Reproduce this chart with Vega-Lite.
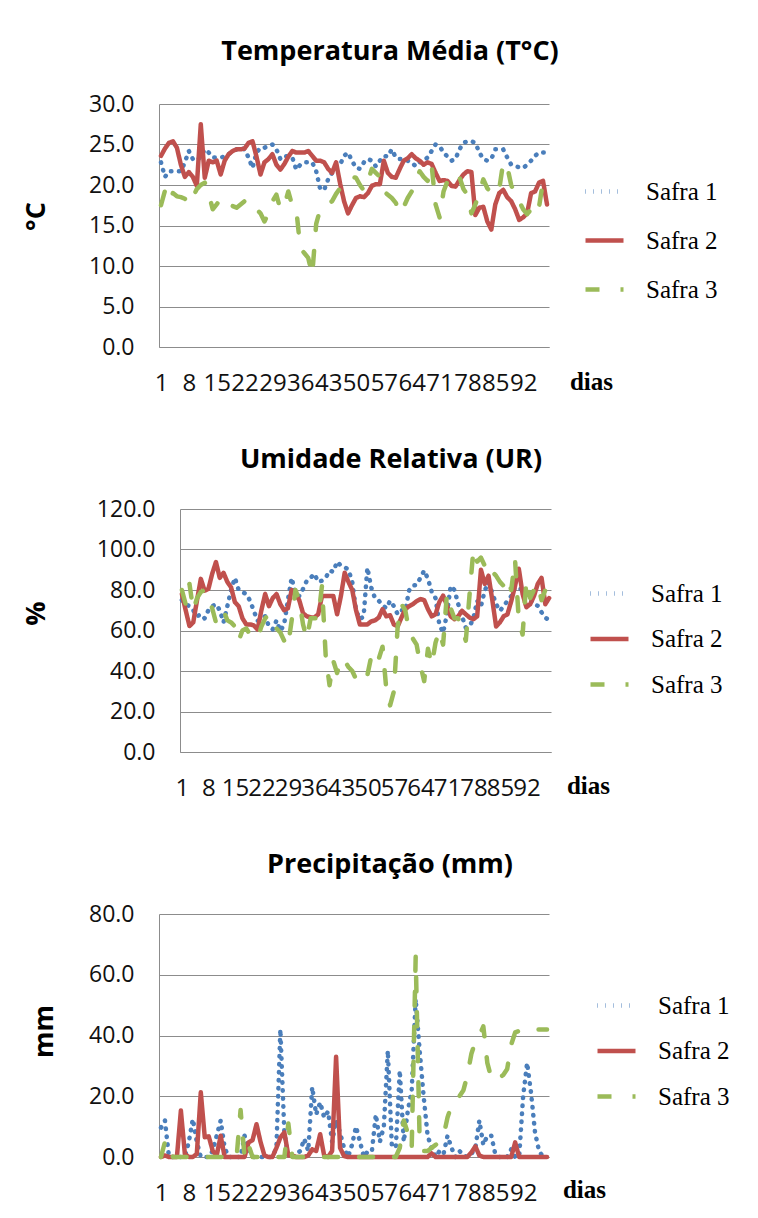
{
"$schema": "https://vega.github.io/schema/vega-lite/v6.json",
"background": "white",
"padding": {"left": 22, "top": 38, "right": 10, "bottom": 14},
"config": {
  "font": "Open Sans",
  "view": {"stroke": null},
  "axis": {"gridColor": "#8c8c8c", "domainColor": "#8c8c8c", "ticks": false, "tickSize": 0, "labelColor": "#111111", "labelFont": "Open Sans", "titleColor": "#000000"},
  "title": {"font": "Open Sans", "fontSize": 27, "fontWeight": "bold", "color": "#000000", "anchor": "middle", "frame": "group"},
  "line": {"strokeWidth": 4.5, "strokeCap": "round", "strokeJoin": "round"}
},
"spacing": 51,
"resolve": {"scale": {"color": "independent", "strokeDash": "independent"}, "legend": {"color": "independent", "strokeDash": "independent"}},
"data": {"values": [
{"dia":1,"safra":"Safra 1","temp":22.8,"ur":75,"prec":9.7},
{"dia":2,"safra":"Safra 1","temp":21.0,"ur":73,"prec":12},
{"dia":3,"safra":"Safra 1","temp":21.7,"ur":72,"prec":0},
{"dia":4,"safra":"Safra 1","temp":21.7,"ur":70,"prec":0},
{"dia":5,"safra":"Safra 1","temp":21.7,"ur":67,"prec":0},
{"dia":6,"safra":"Safra 1","temp":21.7,"ur":68,"prec":0},
{"dia":7,"safra":"Safra 1","temp":22.8,"ur":66,"prec":0},
{"dia":8,"safra":"Safra 1","temp":24.2,"ur":70,"prec":5},
{"dia":9,"safra":"Safra 1","temp":23.2,"ur":72,"prec":12.5},
{"dia":10,"safra":"Safra 1","temp":23.0,"ur":73,"prec":5},
{"dia":11,"safra":"Safra 1","temp":23.5,"ur":70,"prec":0},
{"dia":12,"safra":"Safra 1","temp":24.4,"ur":64,"prec":0},
{"dia":13,"safra":"Safra 1","temp":24.0,"ur":72,"prec":0},
{"dia":14,"safra":"Safra 1","temp":23.4,"ur":80,"prec":2},
{"dia":15,"safra":"Safra 1","temp":23.4,"ur":86,"prec":7},
{"dia":16,"safra":"Safra 1","temp":23.4,"ur":80,"prec":12},
{"dia":17,"safra":"Safra 1","temp":23.5,"ur":79,"prec":3},
{"dia":18,"safra":"Safra 1","temp":23.8,"ur":78,"prec":0},
{"dia":19,"safra":"Safra 1","temp":24.2,"ur":74.7,"prec":0},
{"dia":20,"safra":"Safra 1","temp":24.4,"ur":69.7,"prec":0},
{"dia":21,"safra":"Safra 1","temp":24.6,"ur":64.7,"prec":0},
{"dia":22,"safra":"Safra 1","temp":24.4,"ur":66,"prec":7},
{"dia":23,"safra":"Safra 1","temp":23.4,"ur":67,"prec":3},
{"dia":24,"safra":"Safra 1","temp":22.1,"ur":62,"prec":0},
{"dia":25,"safra":"Safra 1","temp":24.0,"ur":60.6,"prec":0},
{"dia":26,"safra":"Safra 1","temp":24.6,"ur":65,"prec":0},
{"dia":27,"safra":"Safra 1","temp":24.6,"ur":59.8,"prec":0},
{"dia":28,"safra":"Safra 1","temp":24.8,"ur":63,"prec":0},
{"dia":29,"safra":"Safra 1","temp":25.0,"ur":75,"prec":0},
{"dia":30,"safra":"Safra 1","temp":24.4,"ur":86,"prec":3},
{"dia":31,"safra":"Safra 1","temp":23.2,"ur":78,"prec":42},
{"dia":32,"safra":"Safra 1","temp":23.6,"ur":77,"prec":8},
{"dia":33,"safra":"Safra 1","temp":23.5,"ur":80.5,"prec":0},
{"dia":34,"safra":"Safra 1","temp":23.4,"ur":84.6,"prec":0},
{"dia":35,"safra":"Safra 1","temp":21.9,"ur":86,"prec":1},
{"dia":36,"safra":"Safra 1","temp":22.5,"ur":88,"prec":2},
{"dia":37,"safra":"Safra 1","temp":22.8,"ur":84,"prec":6},
{"dia":38,"safra":"Safra 1","temp":22.8,"ur":84.6,"prec":2},
{"dia":39,"safra":"Safra 1","temp":22.8,"ur":86,"prec":23},
{"dia":40,"safra":"Safra 1","temp":21.7,"ur":89.6,"prec":14},
{"dia":41,"safra":"Safra 1","temp":19.5,"ur":89,"prec":18},
{"dia":42,"safra":"Safra 1","temp":19.4,"ur":94,"prec":13},
{"dia":43,"safra":"Safra 1","temp":20.7,"ur":92,"prec":15},
{"dia":44,"safra":"Safra 1","temp":21.5,"ur":91.3,"prec":5},
{"dia":45,"safra":"Safra 1","temp":22.3,"ur":90,"prec":12},
{"dia":46,"safra":"Safra 1","temp":22.5,"ur":84,"prec":8},
{"dia":47,"safra":"Safra 1","temp":23.6,"ur":70,"prec":3},
{"dia":48,"safra":"Safra 1","temp":24.0,"ur":65.6,"prec":0},
{"dia":49,"safra":"Safra 1","temp":23.0,"ur":67,"prec":4},
{"dia":50,"safra":"Safra 1","temp":22.1,"ur":91,"prec":10},
{"dia":51,"safra":"Safra 1","temp":22.0,"ur":81.3,"prec":5},
{"dia":52,"safra":"Safra 1","temp":22.8,"ur":76,"prec":0},
{"dia":53,"safra":"Safra 1","temp":23.2,"ur":74.7,"prec":2},
{"dia":54,"safra":"Safra 1","temp":23.0,"ur":72.5,"prec":2},
{"dia":55,"safra":"Safra 1","temp":22.3,"ur":71,"prec":14},
{"dia":56,"safra":"Safra 1","temp":23.0,"ur":74.7,"prec":5},
{"dia":57,"safra":"Safra 1","temp":23.6,"ur":72,"prec":10},
{"dia":58,"safra":"Safra 1","temp":23.5,"ur":68,"prec":35},
{"dia":59,"safra":"Safra 1","temp":24.4,"ur":70,"prec":4},
{"dia":60,"safra":"Safra 1","temp":23.4,"ur":69.7,"prec":3},
{"dia":61,"safra":"Safra 1","temp":23.2,"ur":79.7,"prec":28.5},
{"dia":62,"safra":"Safra 1","temp":23.2,"ur":82.2,"prec":5},
{"dia":63,"safra":"Safra 1","temp":23.0,"ur":82.5,"prec":15},
{"dia":64,"safra":"Safra 1","temp":22.8,"ur":86,"prec":22},
{"dia":65,"safra":"Safra 1","temp":22.3,"ur":89.6,"prec":52},
{"dia":66,"safra":"Safra 1","temp":22.8,"ur":85.5,"prec":35},
{"dia":67,"safra":"Safra 1","temp":23.0,"ur":79,"prec":20},
{"dia":68,"safra":"Safra 1","temp":23.4,"ur":76,"prec":7},
{"dia":69,"safra":"Safra 1","temp":24.2,"ur":63,"prec":3},
{"dia":70,"safra":"Safra 1","temp":25.0,"ur":58.9,"prec":0},
{"dia":71,"safra":"Safra 1","temp":24.8,"ur":68,"prec":2},
{"dia":72,"safra":"Safra 1","temp":24.0,"ur":82,"prec":1},
{"dia":73,"safra":"Safra 1","temp":23.5,"ur":80,"prec":7},
{"dia":74,"safra":"Safra 1","temp":23.0,"ur":73,"prec":3},
{"dia":75,"safra":"Safra 1","temp":23.2,"ur":67,"prec":0},
{"dia":76,"safra":"Safra 1","temp":24.4,"ur":61.4,"prec":2},
{"dia":77,"safra":"Safra 1","temp":25.2,"ur":62,"prec":0.5},
{"dia":78,"safra":"Safra 1","temp":25.4,"ur":66,"prec":0},
{"dia":79,"safra":"Safra 1","temp":25.4,"ur":74.7,"prec":1},
{"dia":80,"safra":"Safra 1","temp":25.2,"ur":72,"prec":3},
{"dia":81,"safra":"Safra 1","temp":24.0,"ur":79.7,"prec":12},
{"dia":82,"safra":"Safra 1","temp":23.2,"ur":83.8,"prec":4},
{"dia":83,"safra":"Safra 1","temp":23.0,"ur":78.5,"prec":7},
{"dia":84,"safra":"Safra 1","temp":23.2,"ur":73,"prec":7},
{"dia":85,"safra":"Safra 1","temp":24.4,"ur":69.7,"prec":1},
{"dia":86,"safra":"Safra 1","temp":24.4,"ur":72,"prec":0},
{"dia":87,"safra":"Safra 1","temp":24.4,"ur":74.7,"prec":0},
{"dia":88,"safra":"Safra 1","temp":23.4,"ur":77,"prec":0},
{"dia":89,"safra":"Safra 1","temp":22.5,"ur":81.3,"prec":2.5},
{"dia":90,"safra":"Safra 1","temp":22.3,"ur":81,"prec":0},
{"dia":91,"safra":"Safra 1","temp":22.2,"ur":80,"prec":0},
{"dia":92,"safra":"Safra 1","temp":22.1,"ur":78,"prec":20},
{"dia":93,"safra":"Safra 1","temp":22.5,"ur":76,"prec":31},
{"dia":94,"safra":"Safra 1","temp":23.0,"ur":73,"prec":21},
{"dia":95,"safra":"Safra 1","temp":23.6,"ur":72.2,"prec":8},
{"dia":96,"safra":"Safra 1","temp":24.0,"ur":69,"prec":2},
{"dia":97,"safra":"Safra 1","temp":24.0,"ur":66.4,"prec":0},
{"dia":98,"safra":"Safra 1","temp":24.0,"ur":65,"prec":0},
{"dia":1,"safra":"Safra 2","temp":23.6,"ur":78,"prec":0},
{"dia":2,"safra":"Safra 2","temp":24.5,"ur":70,"prec":0.5},
{"dia":3,"safra":"Safra 2","temp":25.2,"ur":62.2,"prec":0},
{"dia":4,"safra":"Safra 2","temp":25.4,"ur":64,"prec":0},
{"dia":5,"safra":"Safra 2","temp":24.6,"ur":75,"prec":0},
{"dia":6,"safra":"Safra 2","temp":22.5,"ur":85.5,"prec":15.3},
{"dia":7,"safra":"Safra 2","temp":21.0,"ur":79.7,"prec":1},
{"dia":8,"safra":"Safra 2","temp":21.6,"ur":80.5,"prec":0},
{"dia":9,"safra":"Safra 2","temp":21.0,"ur":88,"prec":0},
{"dia":10,"safra":"Safra 2","temp":19.9,"ur":93.8,"prec":1},
{"dia":11,"safra":"Safra 2","temp":27.5,"ur":86,"prec":21.3},
{"dia":12,"safra":"Safra 2","temp":20.9,"ur":88.5,"prec":6.5},
{"dia":13,"safra":"Safra 2","temp":23.0,"ur":84,"prec":6.8},
{"dia":14,"safra":"Safra 2","temp":22.8,"ur":81.3,"prec":2},
{"dia":15,"safra":"Safra 2","temp":23.0,"ur":74,"prec":0.5},
{"dia":16,"safra":"Safra 2","temp":21.3,"ur":72,"prec":7},
{"dia":17,"safra":"Safra 2","temp":23.0,"ur":66,"prec":0},
{"dia":18,"safra":"Safra 2","temp":23.8,"ur":63,"prec":0},
{"dia":19,"safra":"Safra 2","temp":24.2,"ur":63,"prec":0},
{"dia":20,"safra":"Safra 2","temp":24.4,"ur":62.5,"prec":0},
{"dia":21,"safra":"Safra 2","temp":24.4,"ur":60.5,"prec":0},
{"dia":22,"safra":"Safra 2","temp":24.5,"ur":70,"prec":0},
{"dia":23,"safra":"Safra 2","temp":25.2,"ur":78,"prec":4.8},
{"dia":24,"safra":"Safra 2","temp":25.4,"ur":72,"prec":5.5},
{"dia":25,"safra":"Safra 2","temp":23.5,"ur":76,"prec":10.8},
{"dia":26,"safra":"Safra 2","temp":21.3,"ur":78,"prec":5},
{"dia":27,"safra":"Safra 2","temp":22.8,"ur":73,"prec":0.5},
{"dia":28,"safra":"Safra 2","temp":23.2,"ur":70,"prec":0},
{"dia":29,"safra":"Safra 2","temp":23.8,"ur":71,"prec":0},
{"dia":30,"safra":"Safra 2","temp":22.5,"ur":80,"prec":3},
{"dia":31,"safra":"Safra 2","temp":21.9,"ur":78,"prec":6.4},
{"dia":32,"safra":"Safra 2","temp":22.6,"ur":75,"prec":8.1},
{"dia":33,"safra":"Safra 2","temp":23.5,"ur":68.5,"prec":0.5},
{"dia":34,"safra":"Safra 2","temp":24.2,"ur":67,"prec":0.5},
{"dia":35,"safra":"Safra 2","temp":24.0,"ur":66.5,"prec":0},
{"dia":36,"safra":"Safra 2","temp":24.0,"ur":66.4,"prec":0},
{"dia":37,"safra":"Safra 2","temp":24.0,"ur":68,"prec":0},
{"dia":38,"safra":"Safra 2","temp":24.2,"ur":77,"prec":0.5},
{"dia":39,"safra":"Safra 2","temp":23.6,"ur":77,"prec":2.5},
{"dia":40,"safra":"Safra 2","temp":23.0,"ur":77,"prec":2},
{"dia":41,"safra":"Safra 2","temp":23.0,"ur":77,"prec":7.5},
{"dia":42,"safra":"Safra 2","temp":22.8,"ur":68,"prec":0.5},
{"dia":43,"safra":"Safra 2","temp":22.0,"ur":77,"prec":0},
{"dia":44,"safra":"Safra 2","temp":21.5,"ur":88.5,"prec":2},
{"dia":45,"safra":"Safra 2","temp":22.8,"ur":84,"prec":33},
{"dia":46,"safra":"Safra 2","temp":20.2,"ur":80,"prec":3},
{"dia":47,"safra":"Safra 2","temp":18.0,"ur":70,"prec":0.3},
{"dia":48,"safra":"Safra 2","temp":16.5,"ur":63,"prec":0},
{"dia":49,"safra":"Safra 2","temp":17.5,"ur":63,"prec":0},
{"dia":50,"safra":"Safra 2","temp":18.4,"ur":63,"prec":0},
{"dia":51,"safra":"Safra 2","temp":18.6,"ur":64.5,"prec":0},
{"dia":52,"safra":"Safra 2","temp":18.5,"ur":65,"prec":0},
{"dia":53,"safra":"Safra 2","temp":19.0,"ur":66.4,"prec":0},
{"dia":54,"safra":"Safra 2","temp":19.9,"ur":70.5,"prec":0},
{"dia":55,"safra":"Safra 2","temp":20.1,"ur":67,"prec":0},
{"dia":56,"safra":"Safra 2","temp":20.1,"ur":67.5,"prec":0},
{"dia":57,"safra":"Safra 2","temp":23.0,"ur":63,"prec":0},
{"dia":58,"safra":"Safra 2","temp":21.5,"ur":62,"prec":0},
{"dia":59,"safra":"Safra 2","temp":21.0,"ur":66.4,"prec":0},
{"dia":60,"safra":"Safra 2","temp":20.9,"ur":70.5,"prec":0},
{"dia":61,"safra":"Safra 2","temp":22.0,"ur":72,"prec":0},
{"dia":62,"safra":"Safra 2","temp":23.0,"ur":73,"prec":0},
{"dia":63,"safra":"Safra 2","temp":23.3,"ur":74.5,"prec":0},
{"dia":64,"safra":"Safra 2","temp":23.8,"ur":75.5,"prec":0},
{"dia":65,"safra":"Safra 2","temp":23.3,"ur":75,"prec":0},
{"dia":66,"safra":"Safra 2","temp":23.0,"ur":70.5,"prec":0},
{"dia":67,"safra":"Safra 2","temp":22.5,"ur":67,"prec":0},
{"dia":68,"safra":"Safra 2","temp":22.8,"ur":68,"prec":0},
{"dia":69,"safra":"Safra 2","temp":22.6,"ur":74,"prec":1.2},
{"dia":70,"safra":"Safra 2","temp":21.5,"ur":77.2,"prec":0},
{"dia":71,"safra":"Safra 2","temp":20.5,"ur":72.5,"prec":0},
{"dia":72,"safra":"Safra 2","temp":20.6,"ur":67,"prec":0},
{"dia":73,"safra":"Safra 2","temp":20.5,"ur":65.6,"prec":0},
{"dia":74,"safra":"Safra 2","temp":19.9,"ur":67,"prec":0},
{"dia":75,"safra":"Safra 2","temp":19.8,"ur":69.7,"prec":0},
{"dia":76,"safra":"Safra 2","temp":20.6,"ur":68,"prec":0},
{"dia":77,"safra":"Safra 2","temp":21.3,"ur":66.4,"prec":0},
{"dia":78,"safra":"Safra 2","temp":21.7,"ur":65.6,"prec":0},
{"dia":79,"safra":"Safra 2","temp":21.6,"ur":67,"prec":1.5},
{"dia":80,"safra":"Safra 2","temp":16.3,"ur":90,"prec":3.5},
{"dia":81,"safra":"Safra 2","temp":17.2,"ur":83,"prec":0.5},
{"dia":82,"safra":"Safra 2","temp":17.3,"ur":87,"prec":0},
{"dia":83,"safra":"Safra 2","temp":15.5,"ur":75,"prec":0},
{"dia":84,"safra":"Safra 2","temp":14.5,"ur":62,"prec":0},
{"dia":85,"safra":"Safra 2","temp":17.6,"ur":64,"prec":0},
{"dia":86,"safra":"Safra 2","temp":19.0,"ur":67,"prec":0},
{"dia":87,"safra":"Safra 2","temp":19.4,"ur":68,"prec":0},
{"dia":88,"safra":"Safra 2","temp":18.5,"ur":74.5,"prec":0},
{"dia":89,"safra":"Safra 2","temp":18.0,"ur":82,"prec":0},
{"dia":90,"safra":"Safra 2","temp":17.0,"ur":90.5,"prec":4.8},
{"dia":91,"safra":"Safra 2","temp":15.7,"ur":78,"prec":0},
{"dia":92,"safra":"Safra 2","temp":16.0,"ur":71.5,"prec":0},
{"dia":93,"safra":"Safra 2","temp":16.5,"ur":73,"prec":0},
{"dia":94,"safra":"Safra 2","temp":19.0,"ur":77,"prec":0},
{"dia":95,"safra":"Safra 2","temp":19.2,"ur":83,"prec":0},
{"dia":96,"safra":"Safra 2","temp":20.3,"ur":86,"prec":0},
{"dia":97,"safra":"Safra 2","temp":20.5,"ur":73,"prec":0},
{"dia":98,"safra":"Safra 2","temp":17.6,"ur":76,"prec":0},
{"dia":1,"safra":"Safra 3","temp":17.5,"ur":80,"prec":0},
{"dia":2,"safra":"Safra 3","temp":19.3,"ur":73,"prec":5},
{"dia":3,"safra":"Safra 3","temp":18.0,"ur":83,"prec":5},
{"dia":4,"safra":"Safra 3","temp":19.0,"ur":70,"prec":0},
{"dia":5,"safra":"Safra 3","temp":18.6,"ur":76,"prec":0},
{"dia":6,"safra":"Safra 3","temp":18.5,"ur":79,"prec":0},
{"dia":7,"safra":"Safra 3","temp":18.3,"ur":80,"prec":0},
{"dia":8,"safra":"Safra 3","temp":17.6,"ur":76,"prec":0},
{"dia":9,"safra":"Safra 3","temp":18.5,"ur":71,"prec":0},
{"dia":10,"safra":"Safra 3","temp":19.5,"ur":64,"prec":0},
{"dia":11,"safra":"Safra 3","temp":20.0,"ur":66,"prec":0},
{"dia":12,"safra":"Safra 3","temp":20.3,"ur":70,"prec":0},
{"dia":13,"safra":"Safra 3","temp":18.9,"ur":65,"prec":0},
{"dia":14,"safra":"Safra 3","temp":17.0,"ur":64,"prec":0},
{"dia":15,"safra":"Safra 3","temp":17.6,"ur":62,"prec":0},
{"dia":16,"safra":"Safra 3","temp":18.4,"ur":55,"prec":0},
{"dia":17,"safra":"Safra 3","temp":18.2,"ur":60,"prec":0},
{"dia":18,"safra":"Safra 3","temp":17.8,"ur":61,"prec":0},
{"dia":19,"safra":"Safra 3","temp":17.4,"ur":58,"prec":0},
{"dia":20,"safra":"Safra 3","temp":17.2,"ur":57,"prec":0},
{"dia":21,"safra":"Safra 3","temp":17.6,"ur":56,"prec":15.5},
{"dia":22,"safra":"Safra 3","temp":18.0,"ur":62,"prec":0},
{"dia":23,"safra":"Safra 3","temp":18.2,"ur":66,"prec":4},
{"dia":24,"safra":"Safra 3","temp":17.5,"ur":68,"prec":0},
{"dia":25,"safra":"Safra 3","temp":17.0,"ur":63,"prec":0},
{"dia":26,"safra":"Safra 3","temp":16.5,"ur":61,"prec":0},
{"dia":27,"safra":"Safra 3","temp":15.5,"ur":59,"prec":0},
{"dia":28,"safra":"Safra 3","temp":16.5,"ur":55,"prec":0},
{"dia":29,"safra":"Safra 3","temp":18.0,"ur":52,"prec":0},
{"dia":30,"safra":"Safra 3","temp":18.8,"ur":65,"prec":0},
{"dia":31,"safra":"Safra 3","temp":17.0,"ur":80,"prec":0},
{"dia":32,"safra":"Safra 3","temp":17.5,"ur":75,"prec":0},
{"dia":33,"safra":"Safra 3","temp":19.2,"ur":63,"prec":11},
{"dia":34,"safra":"Safra 3","temp":17.4,"ur":56,"prec":0},
{"dia":35,"safra":"Safra 3","temp":17.0,"ur":66,"prec":0},
{"dia":36,"safra":"Safra 3","temp":12.2,"ur":66,"prec":0},
{"dia":37,"safra":"Safra 3","temp":11.6,"ur":66,"prec":0},
{"dia":38,"safra":"Safra 3","temp":11.0,"ur":82,"prec":0},
{"dia":39,"safra":"Safra 3","temp":8.9,"ur":47,"prec":0},
{"dia":40,"safra":"Safra 3","temp":15.2,"ur":33,"prec":0},
{"dia":41,"safra":"Safra 3","temp":17.0,"ur":45,"prec":0},
{"dia":42,"safra":"Safra 3","temp":17.3,"ur":39,"prec":0},
{"dia":43,"safra":"Safra 3","temp":17.6,"ur":46,"prec":0},
{"dia":44,"safra":"Safra 3","temp":18.0,"ur":45,"prec":0},
{"dia":45,"safra":"Safra 3","temp":18.9,"ur":42,"prec":0},
{"dia":46,"safra":"Safra 3","temp":19.6,"ur":40,"prec":0},
{"dia":47,"safra":"Safra 3","temp":20.0,"ur":36,"prec":0},
{"dia":48,"safra":"Safra 3","temp":20.5,"ur":34,"prec":0},
{"dia":49,"safra":"Safra 3","temp":21.0,"ur":35,"prec":0},
{"dia":50,"safra":"Safra 3","temp":20.9,"ur":38,"prec":0},
{"dia":51,"safra":"Safra 3","temp":20.0,"ur":47,"prec":0},
{"dia":52,"safra":"Safra 3","temp":19.3,"ur":50,"prec":0},
{"dia":53,"safra":"Safra 3","temp":20.5,"ur":46,"prec":0},
{"dia":54,"safra":"Safra 3","temp":22.0,"ur":52,"prec":0},
{"dia":55,"safra":"Safra 3","temp":21.5,"ur":31,"prec":0},
{"dia":56,"safra":"Safra 3","temp":21.0,"ur":23,"prec":0},
{"dia":57,"safra":"Safra 3","temp":19.2,"ur":30,"prec":0},
{"dia":58,"safra":"Safra 3","temp":18.8,"ur":62,"prec":0},
{"dia":59,"safra":"Safra 3","temp":18.4,"ur":73,"prec":0},
{"dia":60,"safra":"Safra 3","temp":17.8,"ur":70,"prec":0},
{"dia":61,"safra":"Safra 3","temp":16.5,"ur":60,"prec":3},
{"dia":62,"safra":"Safra 3","temp":17.3,"ur":56,"prec":12},
{"dia":63,"safra":"Safra 3","temp":18.4,"ur":53,"prec":8},
{"dia":64,"safra":"Safra 3","temp":19.2,"ur":43,"prec":3},
{"dia":65,"safra":"Safra 3","temp":20.5,"ur":35,"prec":66},
{"dia":66,"safra":"Safra 3","temp":21.7,"ur":51,"prec":5},
{"dia":67,"safra":"Safra 3","temp":21.0,"ur":43,"prec":2},
{"dia":68,"safra":"Safra 3","temp":20.5,"ur":54,"prec":2},
{"dia":69,"safra":"Safra 3","temp":22.5,"ur":60,"prec":3},
{"dia":70,"safra":"Safra 3","temp":17.6,"ur":53,"prec":4},
{"dia":71,"safra":"Safra 3","temp":16.0,"ur":78,"prec":5},
{"dia":72,"safra":"Safra 3","temp":19.2,"ur":71,"prec":7},
{"dia":73,"safra":"Safra 3","temp":20.5,"ur":66,"prec":13},
{"dia":74,"safra":"Safra 3","temp":21.0,"ur":66,"prec":17},
{"dia":75,"safra":"Safra 3","temp":21.5,"ur":60,"prec":18},
{"dia":76,"safra":"Safra 3","temp":21.0,"ur":55,"prec":20},
{"dia":77,"safra":"Safra 3","temp":19.5,"ur":78,"prec":22},
{"dia":78,"safra":"Safra 3","temp":18.8,"ur":100,"prec":27},
{"dia":79,"safra":"Safra 3","temp":16.5,"ur":94,"prec":34},
{"dia":80,"safra":"Safra 3","temp":17.6,"ur":96,"prec":38},
{"dia":81,"safra":"Safra 3","temp":19.0,"ur":92,"prec":40},
{"dia":82,"safra":"Safra 3","temp":20.7,"ur":94,"prec":43},
{"dia":83,"safra":"Safra 3","temp":19.6,"ur":89,"prec":31},
{"dia":84,"safra":"Safra 3","temp":19.0,"ur":87,"prec":26},
{"dia":85,"safra":"Safra 3","temp":18.8,"ur":84,"prec":25},
{"dia":86,"safra":"Safra 3","temp":19.5,"ur":82,"prec":26},
{"dia":87,"safra":"Safra 3","temp":22.8,"ur":86,"prec":27},
{"dia":88,"safra":"Safra 3","temp":22.3,"ur":80,"prec":29},
{"dia":89,"safra":"Safra 3","temp":20.0,"ur":95,"prec":37},
{"dia":90,"safra":"Safra 3","temp":18.8,"ur":65,"prec":41},
{"dia":91,"safra":"Safra 3","temp":18.0,"ur":58,"prec":41.5},
{"dia":92,"safra":"Safra 3","temp":17.0,"ur":85,"prec":42},
{"dia":93,"safra":"Safra 3","temp":16.4,"ur":76,"prec":42},
{"dia":94,"safra":"Safra 3","temp":17.0,"ur":80,"prec":42},
{"dia":95,"safra":"Safra 3","temp":16.3,"ur":83,"prec":42},
{"dia":96,"safra":"Safra 3","temp":17.3,"ur":75,"prec":42},
{"dia":97,"safra":"Safra 3","temp":20.5,"ur":80,"prec":42},
{"dia":98,"safra":"Safra 3","temp":21.5,"ur":79,"prec":42}
]},
"vconcat": [
{
  "width": 390, "height": 243,
  "title": {"text": "Temperatura Média (T°C)", "dx": 36, "offset": 27},
  "mark": {"type": "line"},
  "encoding": {
    "x": {"field": "dia", "type": "quantitative", "scale": {"domain": [0.5, 98.5], "nice": false, "zero": false},
      "axis": {"values": [1,8,15,22,29,36,43,50,57,64,71,78,85,92], "format": "d", "grid": false, "labelFontSize": 24, "labelPadding": 24, "labelOverlap": false, "labelFlush": false, "labelBound": false,
        "title": "dias", "titleFont": "Liberation Serif", "titleFontSize": 25, "titleFontWeight": "bold", "titleX": 432, "titleY": 42, "titleBaseline": "alphabetic", "titleAlign": "center"}},
    "y": {"field": "temp", "type": "quantitative", "scale": {"domain": [0, 30], "nice": false},
      "axis": {"values": [0,5,10,15,20,25,30], "format": ".1f", "grid": true, "labelFontSize": 23, "labelPadding": 25,
        "title": "°C", "titleFont": "Open Sans", "titleFontSize": 27, "titleFontWeight": "bold", "titleX": -115, "titleY": 112, "titleBaseline": "alphabetic", "titleAlign": "center", "titleAngle": -90}},
    "color": {"field": "safra", "type": "nominal", "scale": {"domain": ["Safra 1","Safra 2","Safra 3"], "range": ["#4a7ebb","#c0504d","#9bbb59"]},
      "legend": {"title": null, "orient": "none", "legendX": 424, "legendY": 66, "padding": 0, "symbolType": "stroke", "symbolSize": 1444, "symbolStrokeWidth": 4.5, "labelFont": "Liberation Serif", "labelFontSize": 25, "labelColor": "#000000", "labelOffset": 20, "rowPadding": 14, "encode": {"symbols": {"update": {"strokeCap": {"value": "round"}}}}}},
    "strokeDash": {"field": "safra", "type": "nominal", "scale": {"domain": ["Safra 1","Safra 2","Safra 3"], "range": [[0.5,7.5],[1,0],[14,21]]},
      "legend": {"title": null, "orient": "none", "legendX": 424, "legendY": 66, "padding": 0, "symbolType": "stroke", "symbolSize": 1444, "symbolStrokeWidth": 4.5, "labelFont": "Liberation Serif", "labelFontSize": 25, "labelColor": "#000000", "labelOffset": 20, "rowPadding": 14, "encode": {"symbols": {"update": {"strokeCap": {"value": "round"}}}}}}
  }
},
{
  "width": 392, "height": 243,
  "title": {"text": "Umidade Relativa (UR)", "dx": 36, "offset": 24},
  "mark": {"type": "line"},
  "encoding": {
    "x": {"field": "dia", "type": "quantitative", "scale": {"domain": [0.5, 98.5], "nice": false, "zero": false, "range": [21, 392]},
      "axis": {"values": [1,8,15,22,29,36,43,50,57,64,71,78,85,92], "format": "d", "grid": false, "labelFontSize": 24, "labelPadding": 24, "labelOverlap": false, "labelFlush": false, "labelBound": false,
        "title": "dias", "titleFont": "Liberation Serif", "titleFontSize": 25, "titleFontWeight": "bold", "titleX": 429, "titleY": 41, "titleBaseline": "alphabetic", "titleAlign": "center"}},
    "y": {"field": "ur", "type": "quantitative", "scale": {"domain": [0, 120], "nice": false},
      "axis": {"values": [0,20,40,60,80,100,120], "format": ".1f", "grid": true, "offset": -21, "labelFontSize": 23, "labelPadding": 25,
        "title": "%", "titleFont": "Open Sans", "titleFontSize": 27, "titleFontWeight": "bold", "titleX": -136, "titleY": 104, "titleBaseline": "alphabetic", "titleAlign": "center", "titleAngle": -90}},
    "color": {"field": "safra", "type": "nominal", "scale": {"domain": ["Safra 1","Safra 2","Safra 3"], "range": ["#4a7ebb","#c0504d","#9bbb59"]},
      "legend": {"title": null, "orient": "none", "legendX": 429, "legendY": 63, "padding": 0, "symbolType": "stroke", "symbolSize": 1444, "symbolStrokeWidth": 4.5, "labelFont": "Liberation Serif", "labelFontSize": 25, "labelColor": "#000000", "labelOffset": 20, "rowPadding": 10.5, "encode": {"symbols": {"update": {"strokeCap": {"value": "round"}}}}}},
    "strokeDash": {"field": "safra", "type": "nominal", "scale": {"domain": ["Safra 1","Safra 2","Safra 3"], "range": [[0.5,7.5],[1,0],[14,21]]},
      "legend": {"title": null, "orient": "none", "legendX": 429, "legendY": 63, "padding": 0, "symbolType": "stroke", "symbolSize": 1444, "symbolStrokeWidth": 4.5, "labelFont": "Liberation Serif", "labelFontSize": 25, "labelColor": "#000000", "labelOffset": 20, "rowPadding": 10.5, "encode": {"symbols": {"update": {"strokeCap": {"value": "round"}}}}}}
  }
},
{
  "width": 390, "height": 243,
  "title": {"text": "Precipitação (mm)", "dx": 36, "offset": 24},
  "mark": {"type": "line"},
  "encoding": {
    "x": {"field": "dia", "type": "quantitative", "scale": {"domain": [0.5, 98.5], "nice": false, "zero": false},
      "axis": {"values": [1,8,15,22,29,36,43,50,57,64,71,78,85,92], "format": "d", "grid": false, "labelFontSize": 24, "labelPadding": 24, "labelOverlap": false, "labelFlush": false, "labelBound": false,
        "title": "dias", "titleFont": "Liberation Serif", "titleFontSize": 25, "titleFontWeight": "bold", "titleX": 425, "titleY": 40, "titleBaseline": "alphabetic", "titleAlign": "center"}},
    "y": {"field": "prec", "type": "quantitative", "scale": {"domain": [0, 80], "nice": false},
      "axis": {"values": [0,20,40,60,80], "format": ".1f", "grid": true, "labelFontSize": 23, "labelPadding": 25,
        "title": "mm", "titleFont": "Open Sans", "titleFontSize": 27, "titleFontWeight": "bold", "titleX": -107, "titleY": 117, "titleBaseline": "alphabetic", "titleAlign": "center", "titleAngle": -90}},
    "color": {"field": "safra", "type": "nominal", "scale": {"domain": ["Safra 1","Safra 2","Safra 3"], "range": ["#4a7ebb","#c0504d","#9bbb59"]},
      "legend": {"title": null, "orient": "none", "legendX": 436, "legendY": 70, "padding": 0, "symbolType": "stroke", "symbolSize": 1444, "symbolStrokeWidth": 4.5, "labelFont": "Liberation Serif", "labelFontSize": 25, "labelColor": "#000000", "labelOffset": 20, "rowPadding": 10.5, "encode": {"symbols": {"update": {"strokeCap": {"value": "round"}}}}}},
    "strokeDash": {"field": "safra", "type": "nominal", "scale": {"domain": ["Safra 1","Safra 2","Safra 3"], "range": [[0.5,7.5],[1,0],[14,21]]},
      "legend": {"title": null, "orient": "none", "legendX": 436, "legendY": 70, "padding": 0, "symbolType": "stroke", "symbolSize": 1444, "symbolStrokeWidth": 4.5, "labelFont": "Liberation Serif", "labelFontSize": 25, "labelColor": "#000000", "labelOffset": 20, "rowPadding": 10.5, "encode": {"symbols": {"update": {"strokeCap": {"value": "round"}}}}}}
  }
}
]
}
